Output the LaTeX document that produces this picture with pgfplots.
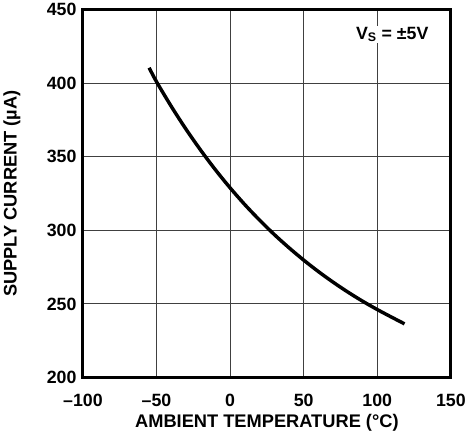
\documentclass[border=0pt]{standalone}
\usepackage{fontspec}
\setmainfont{Liberation Sans}
\usepackage{pgfplots}
\pgfplotsset{compat=1.18}

\begin{document}
\begin{tikzpicture}
\begin{axis}[
  scale only axis,
  width=373pt, height=373pt,
  xmin=-100, xmax=150, ymin=200, ymax=450,
  xtick={-100,-50,0,50,100,150},
  xticklabels={\textendash100,\textendash50,0,50,100,150},
  ytick={200,250,300,350,400,450},
  yticklabels={200,250,300,350,400,450},
  tick label style={font=\bfseries\fontsize{18}{21}\selectfont},
  major tick length=0pt,
  xticklabel style={yshift=-13pt},
  yticklabel style={xshift=-3pt},
  grid=major,
  grid style={line width=1pt, draw=black!75},
  axis line style={line width=3pt},
  xlabel={AMBIENT TEMPERATURE (°C)},
  ylabel={SUPPLY CURRENT (µA)},
  label style={font=\bfseries\fontsize{18.5}{21}\selectfont},
  xlabel style={yshift=-1pt},
  ylabel style={yshift=20pt},
]
  \addplot[line width=3.5pt, black, smooth] coordinates {
    (-55,410.5) (-50,401) (-40,384.3) (-30,368.8) (-20,354.5) (-10,341.2)
    (0,328.9) (10,317.5) (20,307) (30,297.2) (40,288.2) (50,279.8)
    (60,272) (70,264.8) (80,258.1) (90,251.9) (100,246.2) (110,240.9)
    (118.5,236.5)
  };
  \node[anchor=north east, font=\bfseries\fontsize{18}{21}\selectfont,
        fill=white, inner sep=1pt]
    at (axis cs:135.5,439) {V\textsubscript{S} = ±5V};
\end{axis}
\end{tikzpicture}
\end{document}
